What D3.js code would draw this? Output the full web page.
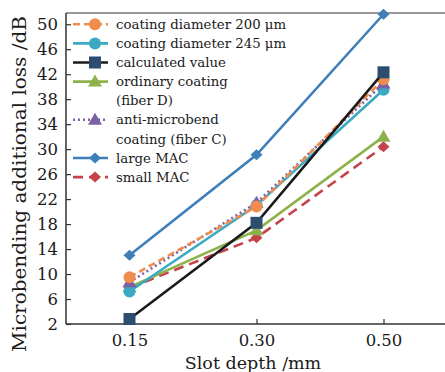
<!DOCTYPE html>
<html><head><meta charset="utf-8">
<script src="https://cdn.jsdelivr.net/npm/d3@7"></script>
<style>body{margin:0;background:#fff}svg{display:block}</style>
</head><body>
<svg id="c" width="445" height="372"></svg>
<script>
const categories = ["0.15", "0.30", "0.50"];
const yTicks = [2, 6, 10, 14, 18, 22, 26, 30, 34, 38, 42, 46, 50];
const coating200 = [9.5, 20.8, 41.2];
const coating245 = [7.2, 21.0, 39.5];
const calculated = [2.8, 18.2, 42.3];
const ordinaryD = [7.9, 17.0, 32.0];
const antiC = [8.7, 21.4, 40.5];
const largeMAC = [13.0, 29.1, 51.6];
const smallMAC = [7.8, 15.8, 30.4];

const series = [
  {name: ["coating diameter 200 μm"], values: coating200, color: "#F08D4E", dash: "7,4", marker: "circle", mcolor: "#F08D4E"},
  {name: ["coating diameter 245 μm"], values: coating245, color: "#3BA9C2", dash: null, marker: "circle", mcolor: "#3BA9C2"},
  {name: ["calculated value"], values: calculated, color: "#1b1b1b", dash: null, marker: "square", mcolor: "#2C4D70"},
  {name: ["ordinary coating", "(fiber D)"], values: ordinaryD, color: "#8EB24B", dash: null, marker: "triangle", mcolor: "#8EB24B"},
  {name: ["anti-microbend", "coating (fiber C)"], values: antiC, color: "#7B62A6", dash: "2,3", marker: "triangle", mcolor: "#7B62A6"},
  {name: ["large MAC"], values: largeMAC, color: "#3E7EB9", dash: null, marker: "diamond", mcolor: "#3E7EB9"},
  {name: ["small MAC"], values: smallMAC, color: "#C4434B", dash: "10,6", marker: "diamond", mcolor: "#C4434B"}
];
const drawOrder = [6, 3, 1, 4, 0, 2, 5];

const svg = d3.select("#c");
const L = 66, R = 447, T = 13, B = 324;
const x = d3.scalePoint().domain(categories).range([L, R]).padding(0.5);
const y = d3.scaleLinear().domain([2, 51.8]).range([B, T]);
const font = "DejaVu Serif";

svg.append("line").attr("x1", L).attr("x2", R).attr("y1", T).attr("y2", T).attr("stroke", "#333").attr("stroke-width", 1.2);
svg.append("line").attr("x1", R).attr("x2", R).attr("y1", T).attr("y2", B).attr("stroke", "#333").attr("stroke-width", 1.2);

const yAxis = svg.append("g").attr("transform", `translate(${L},0)`)
  .call(d3.axisRight(y).tickValues(yTicks).tickSize(5).tickFormat(d3.format("d")));
yAxis.select(".domain").attr("stroke", "#333").attr("stroke-width", 1.5).attr("d", `M0,${T}V${B}`);
yAxis.selectAll(".tick line").attr("stroke", "#333").attr("stroke-width", 1.2);
yAxis.selectAll(".tick text").attr("x", -8).attr("text-anchor", "end")
  .attr("font-family", font).attr("font-size", 16.5).attr("fill", "#1a1a1a");

const xAxis = svg.append("g").attr("transform", `translate(0,${B})`)
  .call(d3.axisTop(x).tickSize(5));
xAxis.select(".domain").attr("stroke", "#333").attr("stroke-width", 1.5).attr("d", `M${L},0H${R}`);
xAxis.selectAll(".tick line").attr("stroke", "#333").attr("stroke-width", 1.2);
xAxis.selectAll(".tick text").attr("y", 16).attr("dy", "0.35em")
  .attr("font-family", font).attr("font-size", 16.5).attr("fill", "#1a1a1a");

svg.append("text").attr("x", 253).attr("y", 363).attr("dy", "0.35em").attr("text-anchor", "middle")
  .attr("font-family", font).attr("font-size", 17.5).attr("fill", "#1a1a1a").text("Slot depth /mm");
svg.append("text").attr("transform", "translate(20,184) rotate(-90)").attr("dy", "0.35em").attr("text-anchor", "middle")
  .attr("font-family", font).attr("font-size", 18).attr("fill", "#1a1a1a")
  .attr("textLength", 336).attr("lengthAdjust", "spacingAndGlyphs")
  .text("Microbending additional loss /dB");

function marker(g, type, cx, cy, color) {
  if (type === "circle") g.append("circle").attr("cx", cx).attr("cy", cy).attr("r", 6).attr("fill", color);
  else if (type === "square") g.append("rect").attr("x", cx - 6).attr("y", cy - 6).attr("width", 12).attr("height", 12).attr("fill", color);
  else if (type === "triangle") g.append("path").attr("d", `M${cx},${cy-7}L${cx+7},${cy+5}L${cx-7},${cy+5}Z`).attr("fill", color);
  else if (type === "diamond") g.append("path").attr("d", `M${cx},${cy-5.5}L${cx+6},${cy}L${cx},${cy+5.5}L${cx-6},${cy}Z`).attr("fill", color);
}

const line = d3.line().x((d, i) => x(categories[i])).y(d => y(d));
const plot = svg.append("g");
drawOrder.forEach(k => {
  const s = series[k];
  const g = plot.append("g");
  g.append("path").attr("d", line(s.values)).attr("fill", "none").attr("stroke", s.color)
    .attr("stroke-width", 2.6).attr("stroke-dasharray", s.dash);
  s.values.forEach((v, i) => marker(g, s.marker, x(categories[i]), y(v), s.mcolor));
});

const leg = svg.append("g");
let row = 0;
const rowH = 19.1, ly0 = 24.3;
series.forEach(s => {
  const cy = ly0 + row * rowH;
  leg.append("line").attr("x1", 73).attr("x2", 108).attr("y1", cy).attr("y2", cy)
    .attr("stroke", s.color).attr("stroke-width", 2.6).attr("stroke-dasharray", s.dash);
  marker(leg, s.marker, 95, cy, s.mcolor);
  s.name.forEach((t, j) => {
    leg.append("text").attr("x", 116).attr("y", ly0 + (row + j) * rowH).attr("dy", "0.35em")
      .attr("font-family", font).attr("font-size", 13.3).attr("fill", "#1a1a1a").text(t);
  });
  row += s.name.length;
});
</script>
</body></html>
